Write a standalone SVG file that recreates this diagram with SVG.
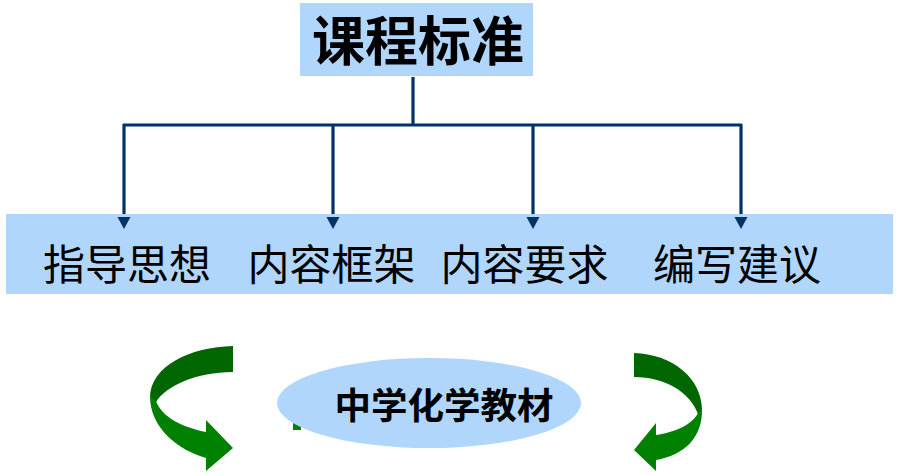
<svg xmlns="http://www.w3.org/2000/svg" width="899" height="476" viewBox="0 0 899 476">
<style>
.box{fill:#B0D6FB}
.ln{stroke:#003366;stroke-width:3.2;fill:none}
.t{font-family:"Noto Sans CJK SC","Noto Sans CJK TC",sans-serif;fill:#000}
.dk{fill:#006600}
.lt{fill:#008000}
</style>
<rect width="899" height="476" fill="#fff"/>
<g id="connectors">
<path class="ln" d="M413,77 V125 M123,125 H742"/>
<line class="ln" x1="124" y1="124" x2="124" y2="218"/>
<line class="ln" x1="333" y1="124" x2="333" y2="218"/>
<line class="ln" x1="533" y1="124" x2="533" y2="218"/>
<line class="ln" x1="741" y1="124" x2="741" y2="218"/>
</g>
<g id="title">
<rect class="box" x="300" y="3" width="233" height="73"/>
<text class="t" x="418" y="61" font-size="53" font-weight="bold" text-anchor="middle">课程标准</text>
</g>
<g id="band">
<rect class="box" x="6" y="214" width="887" height="80"/>
<text class="t" x="127" y="280" font-size="42" text-anchor="middle">指导思想</text>
<text class="t" x="331.5" y="280" font-size="42" text-anchor="middle">内容框架</text>
<text class="t" x="524.5" y="280" font-size="42" text-anchor="middle">内容要求</text>
<text class="t" x="737" y="280" font-size="42" text-anchor="middle">编写建议</text>
</g>
<g id="arrowheads" fill="#003366">
<path d="M117.5,217 L130.5,217 L124,229 Z"/>
<path d="M326.5,217 L339.5,217 L333,229 Z"/>
<path d="M526.5,217 L539.5,217 L533,229 Z"/>
<path d="M734.5,217 L747.5,217 L741,229 Z"/>
</g>
<g id="left-arrow">
<path class="dk" d="M233,346 C190,347 150,366 150,398 L156,402 C166,386 196,372 233,372 Z"/>
<path class="lt" d="M150,396 C150,428 178,450 206,458 L206,471 L233,448 L206,420 L206,432 C185,428 162,418 156,401 Z"/>
</g>
<g id="right-arrow">
<path class="dk" d="M634,353 C672,354 702,378 702,410 L698,414 C690,392 665,377 634,377 Z"/>
<path class="lt" d="M702,408 C703,438 684,455 656,460 L656,471 L634,450 L656,423 L656,435 C675,432 692,425 698,413 Z"/>
</g>
<g id="textbook">
<rect class="lt" x="293" y="423" width="8" height="7"/>
<ellipse cx="429" cy="403" rx="152" ry="45" fill="#B0D6FB"/>
<text class="t" x="444" y="419" font-size="36.5" font-weight="bold" text-anchor="middle">中学化学教材</text>
</g>
</svg>
